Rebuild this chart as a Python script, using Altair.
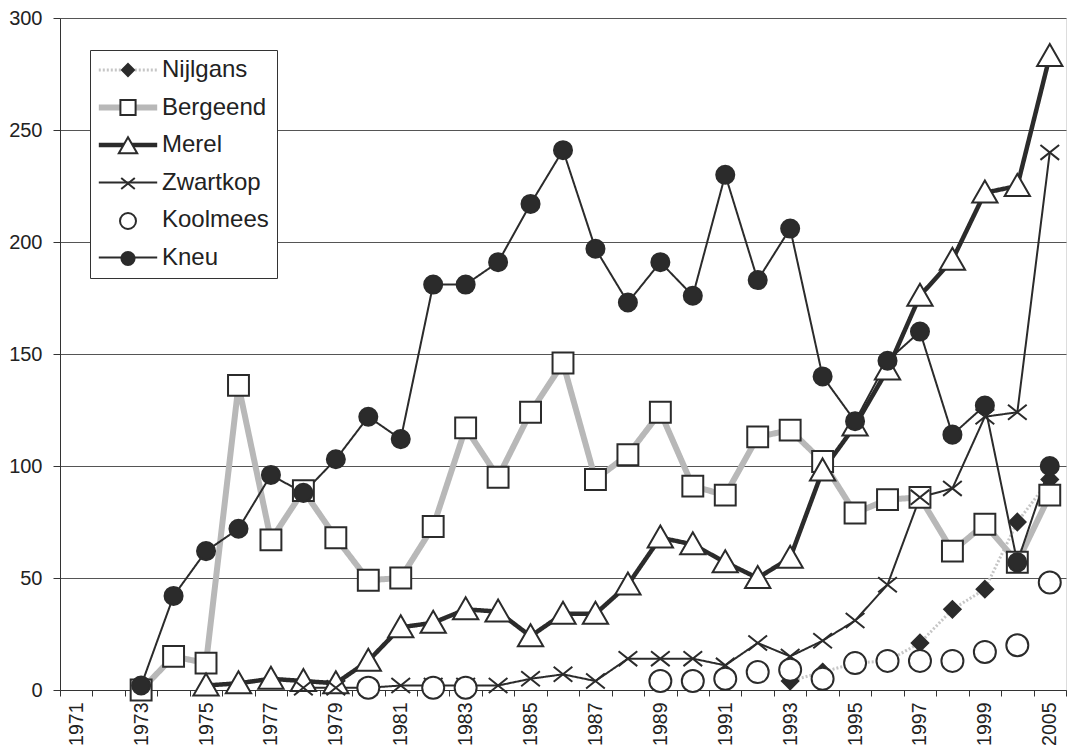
import altair as alt
import pandas as pd

N = None
years = [str(y) for y in range(1971, 2001)] + ["2005"]
series = ["Nijlgans", "Bergeend", "Merel", "Zwartkop", "Koolmees", "Kneu"]

nijlgans = [N] * 22 + [4, 8, 12, 13, 21, 36, 45, 75, 94]
bergeend = [N] * 2 + [0, 15, 12, 136, 67, 89, 68, 49, 50, 73, 117, 95, 124, 146, 94,
                      105, 124, 91, 87, 113, 116, 102, 79, 85, 86, 62, 74, 57, 87]
merel = [N] * 4 + [2, 3, 5, 4, 3, 13, 28, 30, 36, 35, 24, 34, 34, 47, 68,
                   65, 57, 50, 59, 98, 118, 143, 176, 192, 222, 225, 283]
zwartkop = [N] * 7 + [1, 1, 1, 2, 2, 2, 2, 5, 7, 4, 14, 14, 14, 11, 21,
                      15, 22, 31, 47, 86, 90, 122, 124, 240]
koolmees = [N] * 9 + [1, N, 1, 1] + [N] * 5 + [4, 4, 5, 8, 9, 5, 12, 13, 13, 13, 17, 20, 48]
kneu = [N] * 2 + [2, 42, 62, 72, 96, 88, 103, 122, 112, 181, 181, 191, 217, 241, 197,
                  173, 191, 176, 230, 183, 206, 140, 120, 147, 160, 114, 127, 57, 100]

values = {"Nijlgans": nijlgans, "Bergeend": bergeend, "Merel": merel,
          "Zwartkop": zwartkop, "Koolmees": koolmees, "Kneu": kneu}

DARK = "#2b2b2b"
line_colors = ["#c6c6c6", "#b8b8b8", DARK, DARK, "transparent", DARK]
line_widths = [3, 6, 4.5, 2, 0, 2]
line_dashes = [[2, 2], [1, 0], [1, 0], [1, 0], [1, 0], [1, 0]]
thresholds = [0.5, 1.5, 2.5, 3.5, 4.5]

rows = []
for i, s in enumerate(series):
    for y, v in zip(years, values[s]):
        if v is not None:
            rows.append({"year": y, "value": v, "species": s, "sp": s + " ", "idx": i})
df = pd.DataFrame(rows)
line_df = df[df["species"] != "Koolmees"]
pt_series = [s + " " for s in series]

shapes = [
    "M0,-0.75L0.75,0L0,0.75L-0.75,0Z",
    "M-0.95,-0.95H0.95V0.95H-0.95Z",
    "M0,-1.1L1.15,0.9H-1.15Z",
    "M-0.85,-0.68L0.85,0.68M-0.85,0.68L0.85,-0.68",
    "M1,0A1,1 0 1,1 -1,0A1,1 0 1,1 1,0Z",
    "M0.82,0A0.82,0.82 0 1,1 -0.82,0A0.82,0.82 0 1,1 0.82,0Z",
]
fills = [DARK, "white", "white", "transparent", "white", DARK]
strokes = [DARK, DARK, DARK, DARK, DARK, DARK]

FONT = "Liberation Sans"
name_expr = "[" + ",".join("'" + s + "'" for s in series) + "][datum.index]"

common_leg = dict(title=None, orient="none", legendX=30, legendY=32,
                  symbolSize=256, labelFont=FONT, labelFontSize=24,
                  labelColor="#222", padding=8, rowPadding=13.5, labelLimit=400,
                  zindex=1, symbolOffset=18, labelOffset=22)
line_legend = alt.Legend(symbolType="M-3.65,0H3.65", strokeColor="#333", fillColor="white",
                         labelExpr=name_expr, **common_leg)
pt_legend = alt.Legend(labelExpr="' '", symbolStrokeWidth=2, **common_leg)

x_enc = alt.X("year:N", sort=years,
              scale=alt.Scale(type="band", domain=years, paddingInner=0, paddingOuter=0),
              axis=alt.Axis(title=None, labelAngle=270, labelOverlap=False,
                            labelExpr="toNumber(datum.value) % 2 == 1 ? datum.value : ''",
                            tickBand="extent", grid=False, tickSize=6, labelPadding=6,
                            labelFontSize=19.5, labelFont=FONT, labelColor="#222",
                            domainColor="#333", tickColor="#333"))
y_enc = alt.Y("value:Q", scale=alt.Scale(domain=[0, 300], nice=False),
              axis=alt.Axis(title=None, values=[0, 50, 100, 150, 200, 250, 300],
                            grid=True, gridColor="#555", domainColor="#333",
                            tickColor="#333", tickSize=7, labelPadding=11,
                            labelFontSize=20, labelFont=FONT, labelColor="#222"))

lines = alt.Chart(line_df).mark_line().encode(
    x=x_enc, y=y_enc,
    detail="species:N",
    color=alt.Color("idx:Q", scale=alt.Scale(type="threshold", domain=thresholds, range=line_colors),
                    legend=line_legend),
    strokeWidth=alt.StrokeWidth("idx:Q", scale=alt.Scale(type="threshold", domain=thresholds, range=line_widths),
                                legend=line_legend),
    strokeDash=alt.StrokeDash("idx:Q", scale=alt.Scale(type="threshold", domain=thresholds, range=line_dashes),
                              legend=line_legend),
)

points = alt.Chart(df).mark_point(filled=True, size=484, strokeWidth=2, opacity=1).encode(
    x=x_enc, y=y_enc,
    shape=alt.Shape("sp:N", scale=alt.Scale(domain=pt_series, range=shapes), legend=pt_legend),
    fill=alt.Fill("sp:N", scale=alt.Scale(domain=pt_series, range=fills), legend=pt_legend),
    stroke=alt.Stroke("sp:N", scale=alt.Scale(domain=pt_series, range=strokes), legend=pt_legend),
)

chart = alt.layer(lines, points).properties(
    width=1006, height=672, padding=0, background="white"
).configure_view(strokeWidth=0).configure(font=FONT)

chart.save("out.html", embed_options={"renderer": "svg", "actions": False})
